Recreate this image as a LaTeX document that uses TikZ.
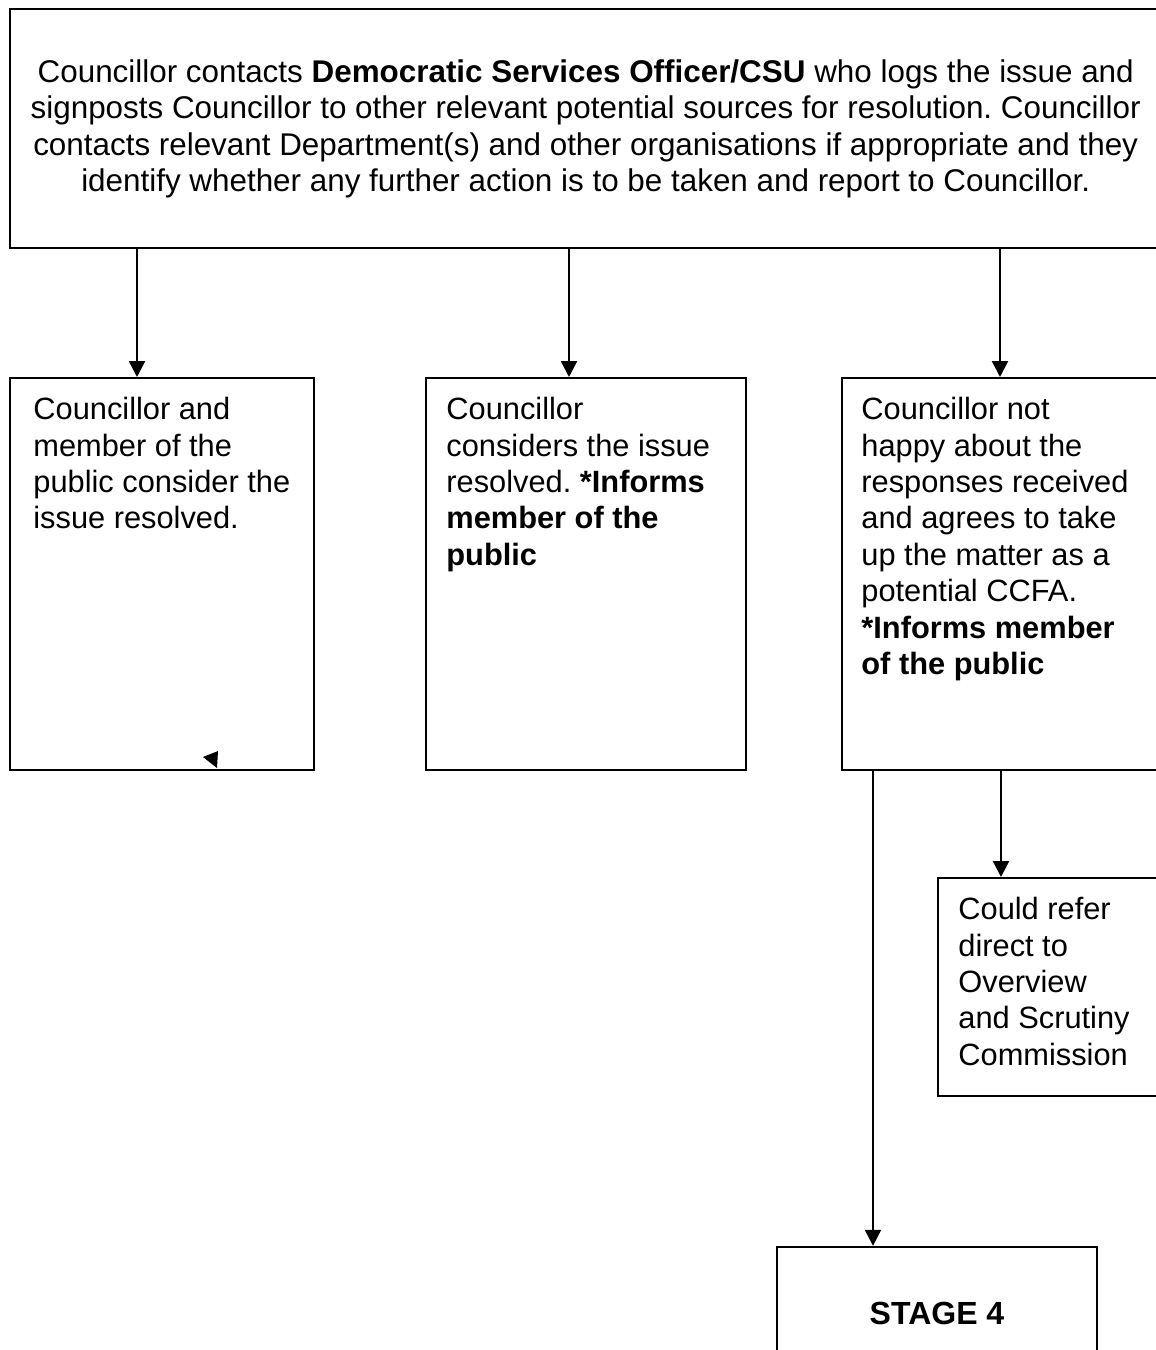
\documentclass[tikz,border=0pt]{standalone}
\usepackage{fontspec}
\setmainfont{Liberation Sans}
\usetikzlibrary{positioning,arrows.meta}
\frenchspacing

\begin{document}
\begin{tikzpicture}[
    x=0.5pt, y=-0.5pt,
    box/.style={rectangle, draw, line width=1.2pt, inner sep=0pt, minimum height=196pt, anchor=north west},
    txt/.style={anchor=north west, align=left, inner sep=0pt, font=\fontsize{15.4}{18.2}\selectfont},
    line/.style={draw, line width=1.2pt, -{Triangle[length=8pt,width=8pt]}}
]
\useasboundingbox (0,0) rectangle (1156,1350);

% top box
\node [box, minimum width=575.5pt, minimum height=119.5pt, align=center,
       font=\fontsize{15.7}{18.2}\selectfont] (contact) at (9,8)
  {Councillor contacts \textbf{Democratic Services Officer/CSU} who logs the issue and\\
   signposts Councillor to other relevant potential sources for resolution. Councillor\\
   contacts relevant Department(s) and other organisations if appropriate and they\\
   identify whether any further action is to be taken and report to Councillor.};

% three outcomes
\node [box, minimum width=152pt] (resolved) at (9,377) {};
\node [box, minimum width=160pt] (considers) at (425,377) {};
\node [box, minimum width=162pt] (unhappy) at (841,377) {};
\node [txt, xshift=12pt, yshift=-10pt] (resolvedtxt) at (resolved.north west)
  {Councillor and\\ member of the\\ public consider the\\ issue resolved.};
\node [txt, xshift=10.5pt, yshift=-10pt] (considerstxt) at (considers.north west)
  {Councillor\\ considers the issue\\ resolved. \textbf{*Informs}\\ \textbf{member of the}\\ \textbf{public}};
\node [txt, xshift=10pt, yshift=-10pt] (unhappytxt) at (unhappy.north west)
  {Councillor not\\ happy about the\\ responses received\\ and agrees to take\\ up the matter as a\\ potential CCFA.\\ \textbf{*Informs member}\\ \textbf{of the public}};

% next steps
\node [box, minimum width=114pt, minimum height=109pt] (refer) at (937,877) {};
\node [txt, xshift=10.5pt, yshift=-10pt] (refertxt) at (refer.north west)
  {Could refer\\ direct to\\ Overview\\ and Scrutiny\\ Commission};
\node [box, anchor=center, minimum width=160pt, minimum height=66pt,
       font=\fontsize{16}{18.2}\selectfont\bfseries] (stage) at (937,1313) {STAGE 4};

\path [line] ([xshift=64pt]contact.south west) -- ([xshift=64pt]contact.south west |- resolved.north);
\path [line] ([xshift=280pt]contact.south west) -- ([xshift=280pt]contact.south west |- considers.north);
\path [line] ([xshift=495.5pt]contact.south west) -- ([xshift=495.5pt]contact.south west |- unhappy.north);
\path [line] ([xshift=80pt]unhappy.south west) -- ([xshift=80pt]unhappy.south west |- refer.north);
\path [line] ([xshift=16pt]unhappy.south west) -- ([xshift=16pt]unhappy.south west |- stage.north);

% stray tip
\fill (203,757) -- (218,751) -- (217,768) -- cycle;

\end{tikzpicture}
\end{document}
